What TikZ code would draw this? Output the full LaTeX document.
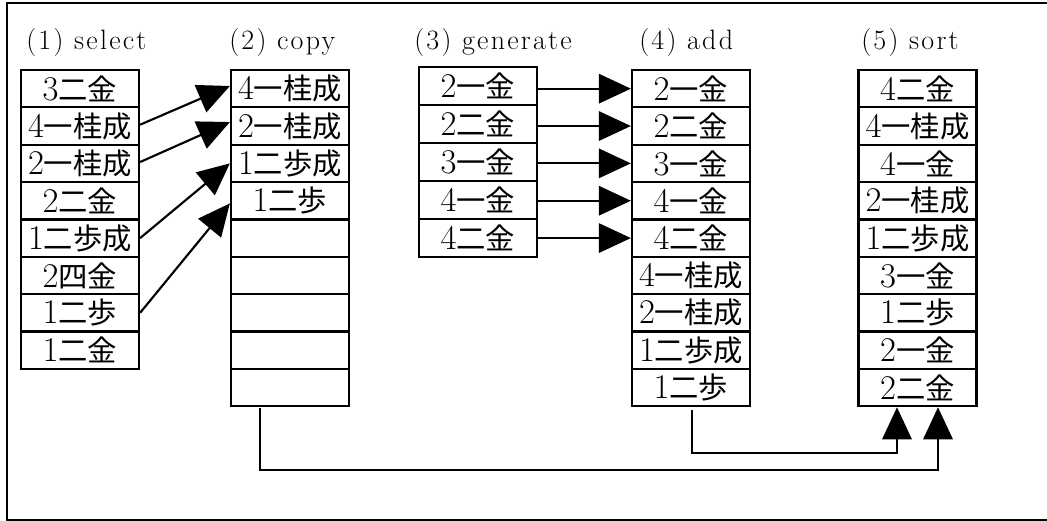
\documentclass[tikz,border=0pt]{standalone}
\usepackage{fontspec}
\newfontfamily\cjk{Noto Sans CJK JP}
\newfontfamily\ttlf{Latin Modern Roman}[LetterSpace=8]
\usetikzlibrary{arrows.meta,calc}
\newcommand\kj[1]{{\cjk\fontsize{22}{22}\selectfont #1}}
\tikzset{
  cell/.style={draw, line width=1.7pt, rectangle, inner sep=0pt,
    minimum width=88.5pt, minimum height=28pt,
    font=\fontsize{26}{26}\selectfont},
  ttl/.style={anchor=west, inner sep=0pt, font=\ttlf\fontsize{21}{21}\selectfont},
  arr/.style={line width=1.6pt, -{Triangle[length=24pt,width=22pt]}},
  conn/.style={line width=1.6pt, -{Triangle[length=24pt,width=22pt]}}
}
\begin{document}
\begin{tikzpicture}[x=0.75pt,y=-0.75pt]
\useasboundingbox (0,0) rectangle (1047,521);
\clip (0,0) rectangle (1047,521);
\draw[line width=2pt] (7,3) rectangle (1070,520.5);

% titles
\node[ttl] (t1) at (26,43) {(1) select};
\node[ttl] (t2) at (229,43) {(2) copy};
\node[ttl] (t3) at (414,43) {(3) generate};
\node[ttl] (t4) at (639,43) {(4) add};
\node[ttl] (t5) at (861,43) {(5) sort};

% column 1: select
\def\rh{37.35}
\foreach \t [count=\i] in {3\kj{二金},4\kj{一桂成},2\kj{一桂成},2\kj{二金},1\kj{二歩成},2\kj{四金},1\kj{二歩},1\kj{二金}}
  \node[cell] (a\i) at (80,{70+\rh*(\i-0.5)}) {\t};
% column 2: copy
\foreach \t [count=\i] in {4\kj{一桂成},2\kj{一桂成},1\kj{二歩成},1\kj{二歩},{},{},{},{},{}}
  \node[cell] (b\i) at (290,{70+\rh*(\i-0.5)}) {\t};
% column 3: generate
\foreach \t [count=\i] in {2\kj{一金},2\kj{二金},3\kj{一金},4\kj{一金},4\kj{二金}}
  \node[cell] (c\i) at (478,{67+38*(\i-0.5)}) {\t};
% column 4: add
\foreach \t [count=\i] in {2\kj{一金},2\kj{二金},3\kj{一金},4\kj{一金},4\kj{二金},4\kj{一桂成},2\kj{一桂成},1\kj{二歩成},1\kj{二歩}}
  \node[cell] (d\i) at (691,{70+\rh*(\i-0.5)}) {\t};
% column 5: sort
\foreach \t [count=\i] in {4\kj{二金},4\kj{一桂成},4\kj{一金},2\kj{一桂成},1\kj{二歩成},3\kj{一金},1\kj{二歩},2\kj{一金},2\kj{二金}}
  \node[cell] (e\i) at (917.5,{70+\rh*(\i-0.5)}) {\t};

% select -> copy
\draw[arr] ([yshift=1pt]a2.east) -- ([yshift=2pt]b1.west);
\draw[arr] ([yshift=1pt]a3.east) -- ([yshift=3pt]b2.west);
\draw[arr] (a5.east) -- (b3.west);
\draw[arr] (a7.east) -- ([yshift=-2pt]b4.west);

% generate -> add
\foreach \i in {1,...,5}
  \draw[arr] (d\i.west -| c\i.east) -- (d\i.west);

% merge into sort
\coordinate (s1) at ($(d9.south)+(1,3)$);
\coordinate (s2) at ($(b9.south)+(-30,1)$);
\coordinate (e1) at ($(e9.south)+(-20.5,0)$);
\coordinate (e2) at ($(e9.south)+(20.5,0)$);
\draw[conn] (s1) -- ++(0,43) -| (e1);
\draw[conn] (s2) -- ++(0,62) -| (e2);
\end{tikzpicture}
\end{document}
